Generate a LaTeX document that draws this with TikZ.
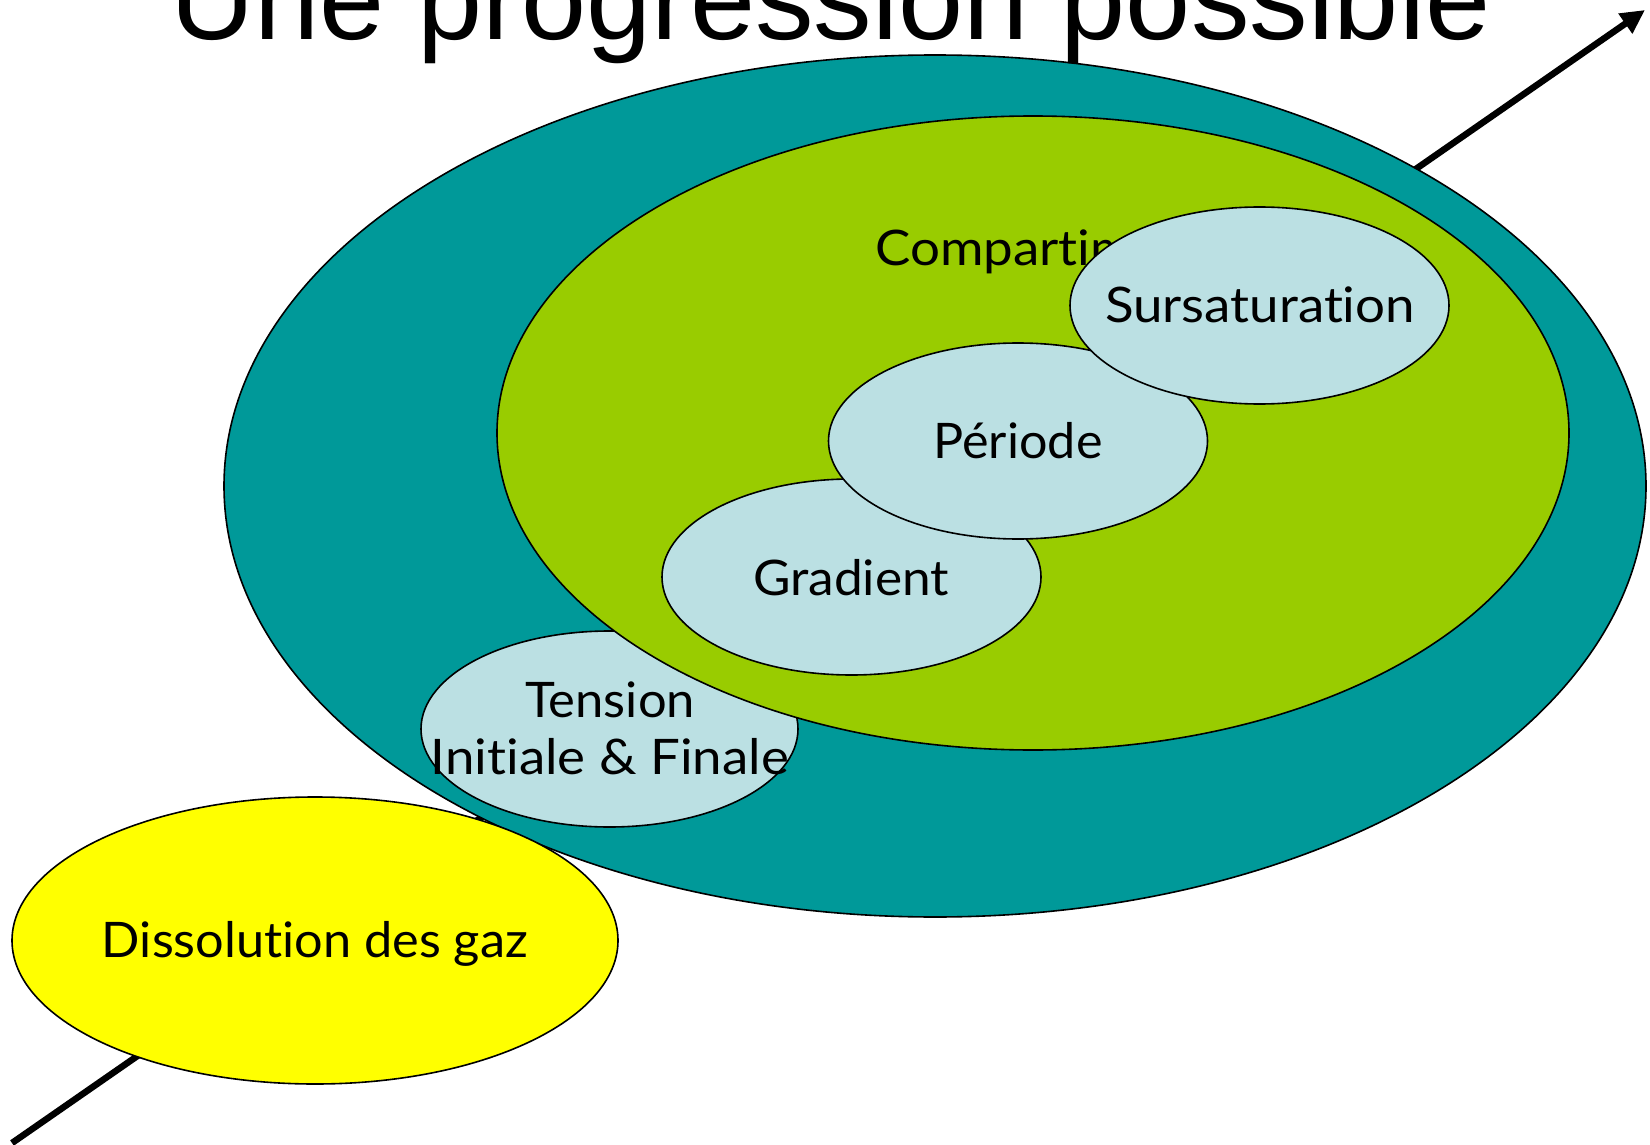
\documentclass[tikz,border=0pt]{standalone}
\usepackage{fontspec}
\usepackage{graphicx}
\usetikzlibrary{shapes.geometric,arrows.meta}
\newfontfamily\titlefont{Liberation Sans}
\newfontfamily\comic[Ligatures={NoCommon}]{Lato}
\newcommand\cfont{\comic\fontsize{49}{58}\selectfont}
\newcommand\lab[2]{\resizebox{#1pt}{\height}{\cfont #2}}
\newcommand\tI{t\kern0pt i}
\newsavebox\tmpbox
\newcommand\complab{\sbox\tmpbox{\cfont Sursaturation}\pgfmathsetmacro\cscale{310/\the\wd\tmpbox}\scalebox{\cscale}[1]{\cfont Compar\tI ment}}
\definecolor{cteal}{RGB}{0,153,153}
\definecolor{cgreen}{RGB}{153,204,0}
\definecolor{cblue}{RGB}{187,224,227}
\definecolor{cyellow}{RGB}{255,255,0}
\tikzset{
  blob/.style={ellipse, draw=black, line width=1.6pt, inner sep=0pt},
  lbl/.style={anchor=base, inner sep=0pt},
  arr/.style={line width=6.5pt, -{Triangle[length=24pt,width=23pt]}}
}
\begin{document}
\begin{tikzpicture}[x=1pt,y=-1pt]
\clip (0,0) rectangle (1650,1145);
\fill[white] (0,0) rectangle (1650,1145);
\coordinate (a0) at (12,1143);
\coordinate (a1) at (1645,10);
\draw[arr] (a0) -- (a1);
\node[blob, fill=cteal, minimum width=1422pt, minimum height=862pt] (outer) at (935,486) {};
\node[blob, fill=cblue, minimum width=377pt, minimum height=196pt] (ten) at (609.5,729) {};
\node[lbl] (tenA) at (610,717) {\lab{170}{Tension}};
\node[lbl] (tenB) at (610,774) {\lab{358}{Ini\tI ale \& Finale}};
\node[blob, fill=cgreen, minimum width=1072pt, minimum height=634pt] (inner) at (1033,433) {};
\node[anchor=base west, inner sep=0pt] (comp) at (875,265) {\complab};
\node[blob, fill=cblue, minimum width=379pt, minimum height=196pt] (gra) at (851.5,577) {};
\node[lbl] (graT) at (851,595) {\lab{196}{Gradient}};
\node[blob, fill=cblue, minimum width=379pt, minimum height=196pt] (per) at (1018,441) {};
\node[lbl] (perT) at (1018,458) {\lab{169}{Période}};
\node[blob, fill=cblue, minimum width=379pt, minimum height=197pt] (sur) at (1259.5,305.5) {};
\node[lbl] (surT) at (1260,322.5) {\lab{310}{Sursaturation}};
\node[blob, fill=cyellow, minimum width=606pt, minimum height=287pt] (dis) at (315,940.5) {};
\node[lbl] (disT) at (315,957) {\lab{426}{Dissolu\tI on des gaz}};
\node[anchor=base west, inner sep=0pt, font=\titlefont\fontsize{117}{130}\selectfont] (title) at (170,40) {Une progression possible};
\end{tikzpicture}
\end{document}
